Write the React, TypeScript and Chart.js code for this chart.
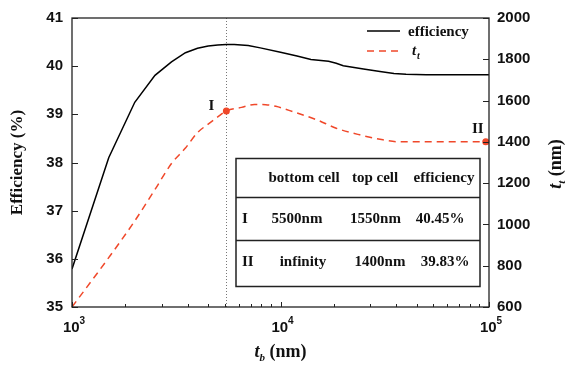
import React, { useEffect, useRef } from 'react';
import { Chart, registerables } from 'chart.js';

Chart.register(...registerables);

// ---- data ----
const effTb = [1000, 1500, 2000, 2500, 3000, 3500, 4000, 4500, 5000, 5500, 6000, 7000, 8000, 10000, 12000, 14000, 17000, 18500, 20000, 25000, 30000, 35000, 40000, 50000, 60000, 100000];
const effVals = [35.79, 38.1, 39.25, 39.81, 40.09, 40.28, 40.37, 40.42, 40.44, 40.45, 40.45, 40.43, 40.38, 40.29, 40.21, 40.14, 40.1, 40.06, 40.01, 39.94, 39.89, 39.85, 39.83, 39.82, 39.82, 39.82];

const ttTb = [1000, 1500, 2000, 2500, 3000, 3500, 4000, 4500, 5000, 5500, 6500, 7500, 8500, 9500, 11500, 15000, 18500, 24000, 31000, 37500, 50000, 96500];
const ttVals = [600, 839, 1017, 1169, 1295, 1370, 1445, 1486, 1521, 1550, 1567, 1581, 1580, 1572, 1546, 1506, 1466, 1434, 1410, 1400, 1400, 1400];

const markerTb = [5500, 96500];
const markerLabels = ['I', 'II'];
const dividerTb = 5500;

const xMajor = [1000, 10000, 100000];
const xMajorExp = ['3', '4', '5'];
const xMinorMult = [1.8, 2.7, 3.6, 4.5, 5.4, 6.3, 7.2, 8.1, 9.0];
const yLeftTicks = [35, 36, 37, 38, 39, 40, 41];
const yRightTicks = [600, 800, 1000, 1200, 1400, 1600, 1800, 2000];

const legendLabels = ['efficiency', 't', 't'];
const tableHeader = ['', 'bottom cell', 'top cell', 'efficiency'];
const tableRows = [
  ['I', '5500nm', '1550nm', '40.45%'],
  ['II', 'infinity', '1400nm', '39.83%'],
];

const RED = 'rgb(240,72,42)';
const SERIF = '"Liberation Serif", "Times New Roman", serif';
const SANS = '"Liberation Sans", Arial, sans-serif';

type Part = { text: string; font: string; dy?: number };

function richWidth(ctx: CanvasRenderingContext2D, parts: Part[]) {
  let w = 0;
  for (const p of parts) {
    ctx.font = p.font;
    w += ctx.measureText(p.text).width;
  }
  return w;
}

function drawRich(ctx: CanvasRenderingContext2D, parts: Part[], x: number, y: number) {
  const w = richWidth(ctx, parts);
  let cx = x - w / 2;
  ctx.textAlign = 'left';
  ctx.textBaseline = 'alphabetic';
  for (const p of parts) {
    ctx.font = p.font;
    ctx.fillText(p.text, cx, y + (p.dy || 0));
    cx += ctx.measureText(p.text).width;
  }
}

const overlay = {
  id: 'overlay',
  beforeDatasetsDraw(chart: any) {
    const { ctx, chartArea: a, scales } = chart;
    const px = Math.round(scales.x.getPixelForValue(dividerTb)) + 0.5;
    ctx.save();
    ctx.strokeStyle = '#777';
    ctx.lineWidth = 1;
    ctx.setLineDash([1, 2]);
    ctx.beginPath();
    ctx.moveTo(px, a.top);
    ctx.lineTo(px, a.bottom);
    ctx.stroke();
    ctx.restore();
  },
  afterDraw(chart: any) {
    const { ctx, chartArea: a, scales } = chart;
    const x = scales.x, yl = scales.y, yr = scales.y2;
    ctx.save();
    ctx.strokeStyle = '#222';
    ctx.fillStyle = '#111';
    ctx.lineWidth = 1.3;
    ctx.setLineDash([]);
    ctx.strokeRect(a.left, a.top, a.right - a.left, a.bottom - a.top);
    ctx.lineWidth = 1;
    ctx.beginPath();
    xMajor.forEach((v) => {
      const px = Math.round(x.getPixelForValue(v)) + 0.5;
      ctx.moveTo(px, a.bottom);
      ctx.lineTo(px, a.bottom - 5);
    });
    for (let d = 0; d < xMajor.length - 1; d++) {
      xMinorMult.forEach((m) => {
        const px = Math.round(x.getPixelForValue(xMajor[d] * m)) + 0.5;
        ctx.moveTo(px, a.bottom);
        ctx.lineTo(px, a.bottom - 3);
      });
    }
    yLeftTicks.forEach((v) => {
      const py = Math.round(yl.getPixelForValue(v)) + 0.5;
      ctx.moveTo(a.left, py);
      ctx.lineTo(a.left + 6, py);
    });
    yRightTicks.forEach((v) => {
      const py = Math.round(yr.getPixelForValue(v)) + 0.5;
      ctx.moveTo(a.right, py);
      ctx.lineTo(a.right - 6, py);
    });
    ctx.stroke();

    xMajor.forEach((v, i) => {
      const px = x.getPixelForValue(v);
      drawRich(ctx, [
        { text: '10', font: `bold 15px ${SANS}` },
        { text: xMajorExp[i], font: `bold 10px ${SANS}`, dy: -8 },
      ], px + 2, 332);
    });

    ctx.fillStyle = '#111';
    ctx.save();
    ctx.translate(18, (a.top + a.bottom) / 2);
    ctx.rotate(-Math.PI / 2);
    ctx.font = `bold 17px ${SERIF}`;
    ctx.textAlign = 'center';
    ctx.textBaseline = 'middle';
    ctx.fillText('Efficiency (%)', 0, 0);
    ctx.restore();

    drawRich(ctx, [
      { text: 't', font: `italic bold 18px ${SERIF}` },
      { text: 'b', font: `italic bold 11px ${SERIF}`, dy: 4 },
      { text: ' (nm)', font: `bold 18px ${SERIF}` },
    ], (a.left + a.right) / 2, 357);

    ctx.save();
    ctx.translate(556, 164);
    ctx.rotate(-Math.PI / 2);
    drawRich(ctx, [
      { text: 't', font: `italic bold 18px ${SERIF}` },
      { text: 't', font: `italic bold 11px ${SERIF}`, dy: 4 },
      { text: ' (nm)', font: `bold 18px ${SERIF}` },
    ], 0, 5);
    ctx.restore();

    ctx.lineWidth = 1.6;
    ctx.strokeStyle = '#000';
    ctx.beginPath();
    ctx.moveTo(367, 31);
    ctx.lineTo(400, 31);
    ctx.stroke();
    ctx.strokeStyle = RED;
    ctx.setLineDash([7, 5]);
    ctx.beginPath();
    ctx.moveTo(367, 51);
    ctx.lineTo(402, 51);
    ctx.stroke();
    ctx.setLineDash([]);
    ctx.fillStyle = '#111';
    ctx.font = `bold 15px ${SERIF}`;
    ctx.textAlign = 'left';
    ctx.textBaseline = 'alphabetic';
    ctx.fillText(legendLabels[0], 408, 36);
    ctx.font = `italic bold 15px ${SERIF}`;
    ctx.fillText(legendLabels[1], 412, 55);
    ctx.font = `italic bold 10px ${SERIF}`;
    ctx.fillText(legendLabels[2], 417, 59);

    const mPts = markerTb.map((t) => ({
      px: x.getPixelForValue(t),
      py: yr.getPixelForValue(ttVals[ttTb.indexOf(t)]),
    }));
    ctx.font = `bold 15px ${SERIF}`;
    ctx.textAlign = 'center';
    ctx.textBaseline = 'middle';
    ctx.fillText(markerLabels[0], mPts[0].px - 15, mPts[0].py - 5);
    ctx.fillText(markerLabels[1], mPts[1].px - 8, mPts[1].py - 13);

    const tL = 236, tT = 158.5, tR = 480, tB = 286.5;
    const rowLines = [197.5, 240.5];
    ctx.strokeStyle = '#222';
    ctx.lineWidth = 1.5;
    ctx.strokeRect(tL, tT, tR - tL, tB - tT);
    ctx.beginPath();
    rowLines.forEach((yy) => {
      ctx.moveTo(tL, yy);
      ctx.lineTo(tR, yy);
    });
    ctx.stroke();
    const rowsY = [178, 219, 262];
    const colCx = [
      [0, 304, 375, 444],
      [0, 297, 375.5, 440],
      [0, 303, 380, 445],
    ];
    const allRows = [tableHeader, ...tableRows];
    ctx.font = `bold 15px ${SERIF}`;
    ctx.textBaseline = 'middle';
    allRows.forEach((row, r) => {
      row.forEach((cell, c) => {
        if (!cell) return;
        if (c === 0) {
          ctx.textAlign = 'left';
          ctx.fillText(cell, 242, rowsY[r]);
        } else {
          ctx.textAlign = 'center';
          ctx.fillText(cell, colCx[r][c], rowsY[r]);
        }
      });
    });
    ctx.restore();
  },
};

export default function App() {
  const ref = useRef<HTMLCanvasElement>(null);
  useEffect(() => {
    if (!ref.current) return;
    const tickFont = { family: '"Liberation Sans", Arial, sans-serif', size: 15, weight: 'bold' as const };
    const chart = new Chart(ref.current, {
      type: 'line',
      data: {
        datasets: [
          {
            label: 'efficiency',
            data: effTb.map((t, i) => ({ x: t, y: effVals[i] })),
            yAxisID: 'y',
            borderColor: '#000',
            borderWidth: 1.5,
            pointRadius: 0,
            tension: 0,
            fill: false,
          },
          {
            label: 'tt',
            data: ttTb.map((t, i) => ({ x: t, y: ttVals[i] })),
            yAxisID: 'y2',
            borderColor: RED,
            backgroundColor: RED,
            borderWidth: 1.5,
            borderDash: [7, 5],
            cubicInterpolationMode: 'monotone',
            pointRadius: (c: any) => (markerTb.includes(ttTb[c.dataIndex]) ? 3.5 : 0),
            pointBackgroundColor: RED,
            pointBorderColor: RED,
            pointBorderWidth: 0,
            fill: false,
            clip: false as any,
          } as any,
        ],
      },
      options: {
        animation: false,
        responsive: false,
        events: [],
        layout: { padding: { top: 16, left: 0, right: 0, bottom: 0 } },
        plugins: { legend: { display: false }, tooltip: { enabled: false } },
        scales: {
          x: {
            type: 'logarithmic',
            min: 1000,
            max: 100000,
            grid: { display: false, drawTicks: false },
            border: { display: false },
            ticks: { display: false },
            afterFit: (s: any) => { s.height = 62; },
          },
          y: {
            position: 'left',
            min: 35,
            max: 41,
            grid: { display: false, drawTicks: false },
            border: { display: false },
            ticks: { stepSize: 1, font: tickFont, color: '#111', padding: 9, callback: (v: any) => String(v) },
            afterFit: (s: any) => { s.width = 72; },
          },
          y2: {
            position: 'right',
            min: 600,
            max: 2000,
            grid: { display: false, drawTicks: false },
            border: { display: false },
            ticks: { stepSize: 200, font: tickFont, color: '#111', padding: 8, callback: (v: any) => String(v) },
            afterFit: (s: any) => { s.width = 76; },
          },
        },
      } as any,
      plugins: [overlay],
    });
    return () => chart.destroy();
  }, []);
  return (
    <div style={{ position: 'absolute', left: 0, top: 0, width: 565, height: 369, background: '#fff' }}>
      <canvas ref={ref} width={565} height={369} style={{ display: 'block' }} />
    </div>
  );
}
